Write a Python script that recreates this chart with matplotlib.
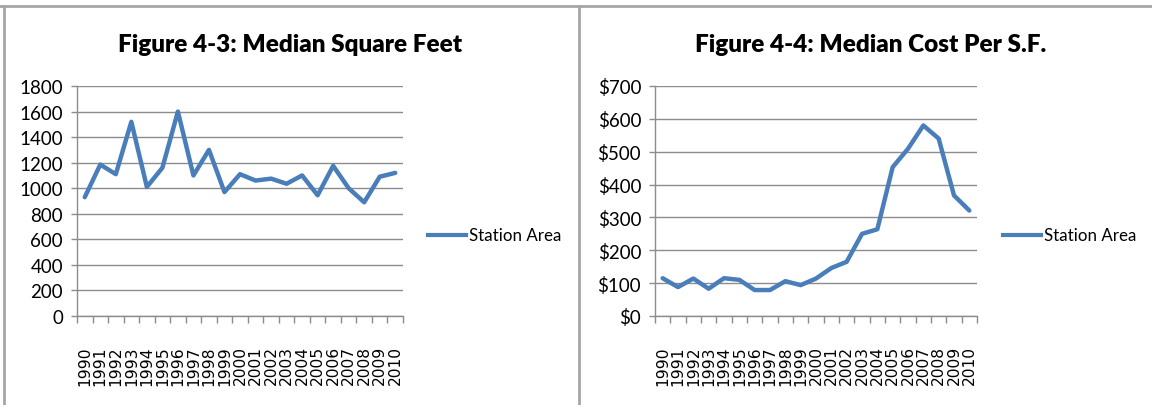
import matplotlib
matplotlib.use('Agg')
import matplotlib.pyplot as plt
from matplotlib.ticker import FixedLocator, FuncFormatter

### ------------------------------- ###
###             Data                ###
### ------------------------------- ###

years = [str(y) for y in range(1990, 2011)]

median_sqft = [930, 1185, 1110, 1520, 1010, 1160, 1600, 1100, 1300, 970,
               1110, 1060, 1075, 1035, 1100, 945, 1175, 1000, 890, 1090, 1120]

median_cost = [115, 88, 114, 83, 115, 110, 79, 79, 106, 94,
               114, 146, 165, 250, 264, 453, 509, 580, 540, 367, 321]

titles = ['Figure 4-3: Median Square Feet', 'Figure 4-4: Median Cost Per S.F.']
series_name = 'Station Area'

### ------------------------------- ###
###             Styling             ###
### ------------------------------- ###

W, H = 1152, 406
line_col = '#4a7ebb'
grid_col = '#8c8c8c'
frame_col = '#a6a6a6'
font_txt = ['Lato', 'DejaVu Sans']
font_x = ['DejaVu Sans']

fig = plt.figure(figsize=(W / 100, H / 100), dpi=100)


def px_axes(x0, x1, y0, y1):
    # pixel box (from top-left) -> figure fraction axes
    return fig.add_axes([x0 / W, 1 - y1 / H, (x1 - x0) / W, (y1 - y0) / H])


def draw_panel(ax, values, ymax, ystep, fmt, title, title_x, leg_x):
    n = len(values)
    xs = list(range(n))
    ax.plot(xs, values, color=line_col, lw=3.2, solid_joinstyle='round', solid_capstyle='round')
    ax.set_xlim(-0.5, n - 0.5)
    ax.set_ylim(0, ymax)

    # y axis
    ax.set_yticks(range(0, ymax + 1, ystep))
    ax.yaxis.set_major_formatter(FuncFormatter(fmt))
    ax.grid(axis='y', color=grid_col, lw=1.0)
    ax.set_axisbelow(True)
    ax.tick_params(axis='y', length=4, width=1, color=grid_col, pad=6, labelsize=13.5)
    for lab in ax.get_yticklabels():
        lab.set_family(font_txt)

    # x axis: tick marks at category boundaries, labels at centres
    ax.xaxis.set_major_locator(FixedLocator([i - 0.5 for i in range(n + 1)]))
    ax.xaxis.set_minor_locator(FixedLocator(xs))
    ax.set_xticklabels([], minor=False)
    ax.set_xticklabels(years, minor=True, rotation=90, fontsize=11.2, family=font_x)
    ax.tick_params(axis='x', which='major', length=5, width=1, color=grid_col, direction='out')
    ax.tick_params(axis='x', which='minor', length=0, pad=21)
    for lab in ax.get_xticklabels(minor=True):
        lab.set_va('top')

    for side in ['top', 'right']:
        ax.spines[side].set_visible(False)
    for side in ['left', 'bottom']:
        ax.spines[side].set_color(grid_col)
        ax.spines[side].set_linewidth(1.0)

    fig.text(title_x / W, 1 - 45 / H, title, ha='center', va='center',
             fontsize=17.5, fontweight='heavy', family=font_txt)

    # legend drawn to the right of the plot
    ly = 1 - 236 / H
    fig.add_artist(plt.Line2D([leg_x / W, (leg_x + 38) / W], [ly, ly],
                              color=line_col, lw=3.0, transform=fig.transFigure))
    fig.text((leg_x + 41) / W, ly, series_name, ha='left', va='center',
             fontsize=12.2, family=font_txt)


ax1 = px_axes(77, 403, 87, 317)
draw_panel(ax1, median_sqft, 1800, 200, lambda v, p: f'{int(v)}',
           titles[0], 290, 428)

ax2 = px_axes(655, 977, 87, 317)
draw_panel(ax2, median_cost, 700, 100, lambda v, p: f'${int(v)}',
           titles[1], 871, 1003)

# frame lines around the two charts
for seg in [([4, 4], [7, H]), ([579, 579], [7, H]), ([0, W], [7, 7])]:
    fig.add_artist(plt.Line2D([s / W for s in seg[0]], [1 - s / H for s in seg[1]],
                              color=frame_col, lw=2.0, transform=fig.transFigure))

fig.savefig('out.png', dpi=100)
